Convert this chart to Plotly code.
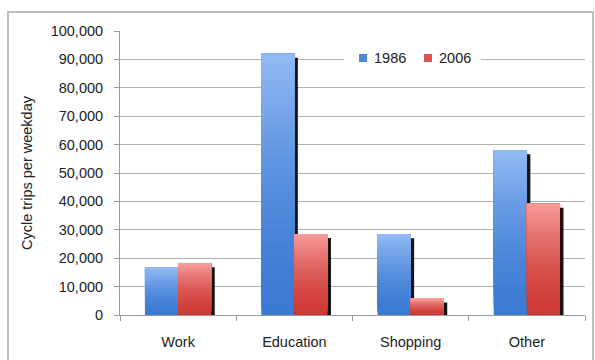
import plotly.graph_objects as go

# Cycle trips per weekday by trip purpose, 1986 vs 2006
categories = ["Work", "Education", "Shopping", "Other"]
trips_1986 = [16800, 92000, 28400, 58000]
trips_2006 = [18200, 28500, 5800, 39200]
y_ticks = list(range(0, 100001, 10000))
series_names = ["1986", "2006"]

W, H = 595, 360
ML, MR, MT, MB = 120, 10, 31, 45
plot_w, plot_h = W - ML - MR, H - MT - MB

BAR_W = 0.285      # bar width in category units
SHADOW_DX = 0.03   # drop shadow shift to the right
SHADOW_DY = 1400   # drop shadow sits a little below each bar top
N_STEPS = 30       # gradient steps per bar
FONT = "Liberation Sans, Arial, sans-serif"
FS = 14.5


def lerp_hex(c1, c2, t):
    a = [int(c1[i:i + 2], 16) for i in (1, 3, 5)]
    b = [int(c2[i:i + 2], 16) for i in (1, 3, 5)]
    return "#" + "".join(f"{round(a[k] + (b[k] - a[k]) * t):02x}" for k in range(3))


series = [
    (series_names[0], trips_1986, -BAR_W, "#3b7ad3", "#93bbf5", "#4a86dc"),
    (series_names[1], trips_2006, 0.0, "#ce3a35", "#f79d9b", "#e05450"),
]

fig = go.Figure()

for name, vals, off, dark, light, legend_col in series:
    # shadow strip
    fig.add_trace(go.Bar(
        x=categories, y=[max(v - SHADOW_DY, 0) for v in vals], base=0,
        offset=off + SHADOW_DX, width=BAR_W,
        marker=dict(color="rgba(0,0,0,0.92)", line=dict(width=0)),
        showlegend=False, hoverinfo="skip",
    ))
    # vertical gradient: dark at the base, light at the top
    for i in range(N_STEPS):
        frac = i / N_STEPS
        t = ((i + 0.5) / N_STEPS) ** 1.6
        fig.add_trace(go.Bar(
            x=categories,
            y=[v * (1 - frac) for v in vals],
            base=[v * frac for v in vals],
            offset=off, width=BAR_W,
            marker=dict(color=lerp_hex(dark, light, t), line=dict(width=0)),
            showlegend=False, hoverinfo="skip",
        ))


def px_to_paper_x(px):
    return (px - ML) / plot_w


def px_to_paper_y(py):
    return (H - MB - py) / plot_h


shapes = []
annotations = []

# outer chart frame
shapes.append(dict(type="rect", xref="paper", yref="paper",
                   x0=px_to_paper_x(8), x1=px_to_paper_x(593),
                   y0=px_to_paper_y(364), y1=px_to_paper_y(12),
                   line=dict(color="#bdbdbd", width=2), layer="below"))

# legend box (white patch over the gridline) with swatches and labels
shapes.append(dict(type="rect", xref="paper", yref="paper",
                   x0=px_to_paper_x(344), x1=px_to_paper_x(481),
                   y0=px_to_paper_y(68), y1=px_to_paper_y(48),
                   fillcolor="white", line=dict(width=0), layer="above"))
legend_items = [(series_names[0], "#4a86dc", 359), (series_names[1], "#e05450", 424)]
for label, col, sx in legend_items:
    shapes.append(dict(type="rect", xref="paper", yref="paper",
                       x0=px_to_paper_x(sx), x1=px_to_paper_x(sx + 8),
                       y0=px_to_paper_y(62), y1=px_to_paper_y(54),
                       fillcolor=col, line=dict(width=0), layer="above"))
    annotations.append(dict(text=label, xref="paper", yref="paper",
                            x=px_to_paper_x(sx + 13), y=px_to_paper_y(58),
                            xanchor="left", yanchor="middle", showarrow=False,
                            font=dict(family=FONT, size=FS, color="#222222")))

fig.update_layout(
    width=W, height=H,
    margin=dict(l=ML, r=MR, t=MT, b=MB),
    paper_bgcolor="white", plot_bgcolor="white",
    barmode="overlay",
    font=dict(family=FONT, size=FS, color="#222222"),
    showlegend=False,
    shapes=shapes,
    annotations=annotations,
    xaxis=dict(
        type="category", categoryorder="array", categoryarray=categories,
        range=[-0.5, 3.5],
        showline=True, linecolor="#9a9a9a", linewidth=1,
        ticks="outside", tickson="boundaries", ticklen=5, tickcolor="#9a9a9a",
        showgrid=False, tickfont=dict(size=FS, color="#222222"),
        ticklabelstandoff=14,
    ),
    yaxis=dict(
        range=[0, 100000], tickvals=y_ticks, tickformat=",d",
        showline=True, linecolor="#9a9a9a", linewidth=1,
        ticks="outside", ticklen=5, tickcolor="#9a9a9a",
        showgrid=True, gridcolor="#b0b0b0", gridwidth=1,
        zeroline=False, ticklabelstandoff=8,
        tickfont=dict(size=FS, color="#222222"),
        title=dict(text="Cycle trips per weekday",
                   font=dict(size=FS, color="#222222"), standoff=14),
    ),
)

fig.write_html("out.html")
